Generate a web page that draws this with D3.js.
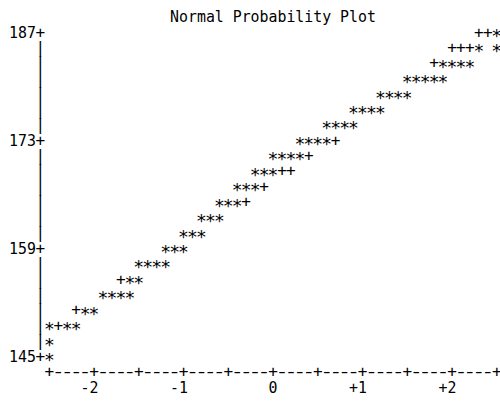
<!DOCTYPE html>
<html><head><meta charset="utf-8">
<script src="https://cdn.jsdelivr.net/npm/d3@7"></script>
<style>html,body{margin:0;padding:0;background:#fff;overflow:hidden}</style>
</head><body><svg id="c" width="500" height="403"></svg>
<script>
// ---- data ----
const title = "Normal Probability Plot";
const heights = [187,185,183,181,179,177,175,173,171,169,167,165,163,161,159,157,155,153,151,149,147,145];
const rowStartZ = [2.3,2.0,1.8,1.5,1.2,0.9,0.6,0.3,0.0,-0.2,-0.4,-0.6,-0.8,-1.0,-1.2,-1.5,-1.7,-1.9,-2.2,-2.5,-2.5,-2.5];
const rowMarks = ["++*","+++* *","+****","*****","****","****","****","****+","****+","***++","***+","***+","***","***","***","****","+**","****","+**","*+**","*","*"];
const yTickValues = [187,173,159,145];
const xTickValues = [-2,-1,0,1,2];
const xTickLabels = ["-2","-1","0","+1","+2"];
const zDomain = [-2.5, 2.5];
const zStep = 0.1;   // one character column
const hStep = 2;     // one character row

// ---- layout ----
const svg = d3.select("#c");
svg.append("rect").attr("width",500).attr("height",403).attr("fill","#fff");
const x = d3.scaleLinear().domain(zDomain).range([49.3, 496.7]);
const y = d3.scaleLinear().domain([187,145]).range([31.7, 356]);
const cw = x(zStep) - x(0);
const FONT = "'DejaVu Sans Mono', 'Liberation Mono', monospace";
const FS = 16, STAR_FS = 18;
const baseDy = 5.8, starDy = 10.1;
const g = svg.append("g").attr("font-family", FONT).attr("font-size", FS).attr("fill", "#000");

function str(s, xs, ys, anchor){
  return g.append("text").attr("x", xs).attr("y", ys + baseDy)
    .attr("text-anchor", anchor || "start")
    .attr("textLength", s.length * cw).attr("lengthAdjust", "spacingAndGlyphs")
    .style("white-space","pre").text(s);
}

// title
str(title, x(0), y(heights[0] + hStep), "middle");

// vertical axis column
const axisZ = zDomain[0] - zStep;
g.selectAll("text.vax").data(heights).join("text").attr("class","vax")
  .attr("x", x(axisZ)).attr("y", h => y(h) + baseDy).attr("text-anchor","middle")
  .text(h => yTickValues.includes(h) ? "+" : "|");
// y tick labels
yTickValues.forEach(v => str(String(v), x(axisZ) - cw/2, y(v), "end"));

// data marks: every character of every row
const cells = [];
heights.forEach((h, i) => {
  [...rowMarks[i]].forEach((ch, j) => {
    if (ch !== " ") cells.push({h, z: rowStartZ[i] + j * zStep, ch});
  });
});
g.selectAll("text.mk").data(cells).join("text").attr("class","mk")
  .attr("x", d => x(d.z)).attr("y", d => y(d.h) + (d.ch === "*" ? starDy : baseDy))
  .attr("font-size", d => d.ch === "*" ? STAR_FS : FS)
  .attr("text-anchor","middle").text(d => d.ch);

// horizontal axis
const axisH = heights[heights.length-1] - hStep;
const ncols = Math.round((zDomain[1]-zDomain[0]) / zStep);
const axisCells = d3.range(ncols + 1).map(k => ({z: zDomain[0] + k*zStep, ch: (k % 5 === 0) ? "+" : "-"}));
g.selectAll("text.hax").data(axisCells).join("text").attr("class","hax")
  .attr("transform", d => `translate(${x(d.z)},${y(axisH) + baseDy})` + (d.ch === "-" ? " scale(1.35,1)" : ""))
  .attr("text-anchor","middle")
  .text(d => d.ch);
// x tick labels (right-aligned to the tick column)
xTickValues.forEach((v, i) => str(xTickLabels[i], x(v) + cw/2, y(axisH - hStep), "end"));
</script></body></html>
